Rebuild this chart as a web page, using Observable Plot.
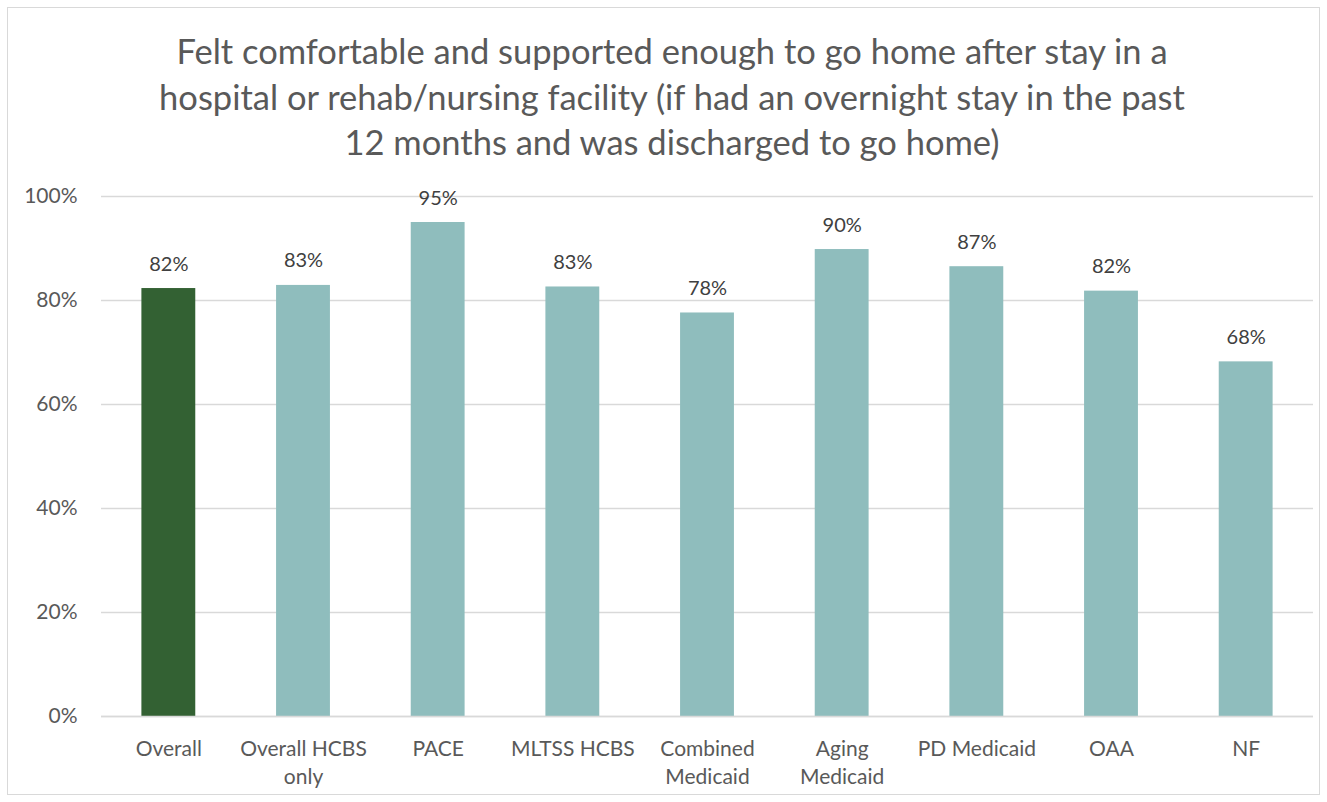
<!DOCTYPE html>
<html>
<head>
<meta charset="utf-8">
<script src="https://cdn.jsdelivr.net/npm/d3@7"></script>
<script src="https://cdn.jsdelivr.net/npm/@observablehq/plot@0.6"></script>
<style>
  html, body { margin: 0; padding: 0; background: #fff; }
  body { width: 1327px; height: 802px; position: relative; overflow: hidden; font-family: Lato, "Open Sans", sans-serif; }
  #frame { position: absolute; left: 7px; top: 7px; width: 1311px; height: 786px; border: 1px solid #d9d9d9; pointer-events: none; }
  #title { height: 170px; box-sizing: border-box; padding-top: 28px; text-align: center; color: #595959; font-size: 34.5px; line-height: 45.5px; padding-left: 17px; white-space: nowrap; }
  #chart svg { display: block; }
</style>
</head>
<body>
<div id="frame"></div>
<div id="title">Felt comfortable and supported enough to go home after stay in a<br>hospital or rehab/nursing facility (if had an overnight stay in the past<br>12 months and was discharged to go home)</div>
<div id="chart"></div>
<script>
const categories = ["Overall", "Overall HCBS\nonly", "PACE", "MLTSS HCBS", "Combined\nMedicaid", "Aging\nMedicaid", "PD Medicaid", "OAA", "NF"];
const values = [82.3, 82.9, 95.0, 82.6, 77.6, 89.8, 86.5, 81.8, 68.2];
const labels = ["82%", "83%", "95%", "83%", "78%", "90%", "87%", "82%", "68%"];
const colors = ["#336133", "#8fbdbd", "#8fbdbd", "#8fbdbd", "#8fbdbd", "#8fbdbd", "#8fbdbd", "#8fbdbd", "#8fbdbd"];
const yTicks = [0, 20, 40, 60, 80, 100];

const data = categories.map((c, i) => ({cat: c, value: values[i], label: labels[i], color: colors[i]}));

const chart = Plot.plot({
  width: 1327,
  height: 632,
  marginTop: 26,
  marginBottom: 86,
  marginLeft: 101,
  marginRight: 14,
  style: {fontFamily: "Lato, 'Open Sans', sans-serif", color: "#595959", background: "transparent", overflow: "visible"},
  x: {domain: categories, paddingInner: 0.6, paddingOuter: 0.3, round: false, label: null},
  y: {domain: [0, 100], label: null},
  marks: [
    Plot.gridY(yTicks, {stroke: "#d9d9d9", strokeOpacity: 1, strokeWidth: 1.3}),
    Plot.barY(data, {x: "cat", y: "value", fill: "color"}),
    Plot.ruleY([0], {stroke: "#d9d9d9", strokeWidth: 1.5}),
    Plot.text(data, {x: "cat", y: "value", text: "label", lineAnchor: "bottom", dy: -18, fontSize: 20, fill: "#404040"}),
    Plot.axisY(yTicks, {tickSize: 0, tickPadding: 24, fontSize: 21, tickFormat: d => d + "%", fill: "#595959", label: null}),
    Plot.axisX({tickSize: 0, tickPadding: 20, fontSize: 21, lineHeight: 1.33, fill: "#595959", label: null})
  ]
});
document.getElementById("chart").appendChild(chart);
</script>
</body>
</html>
